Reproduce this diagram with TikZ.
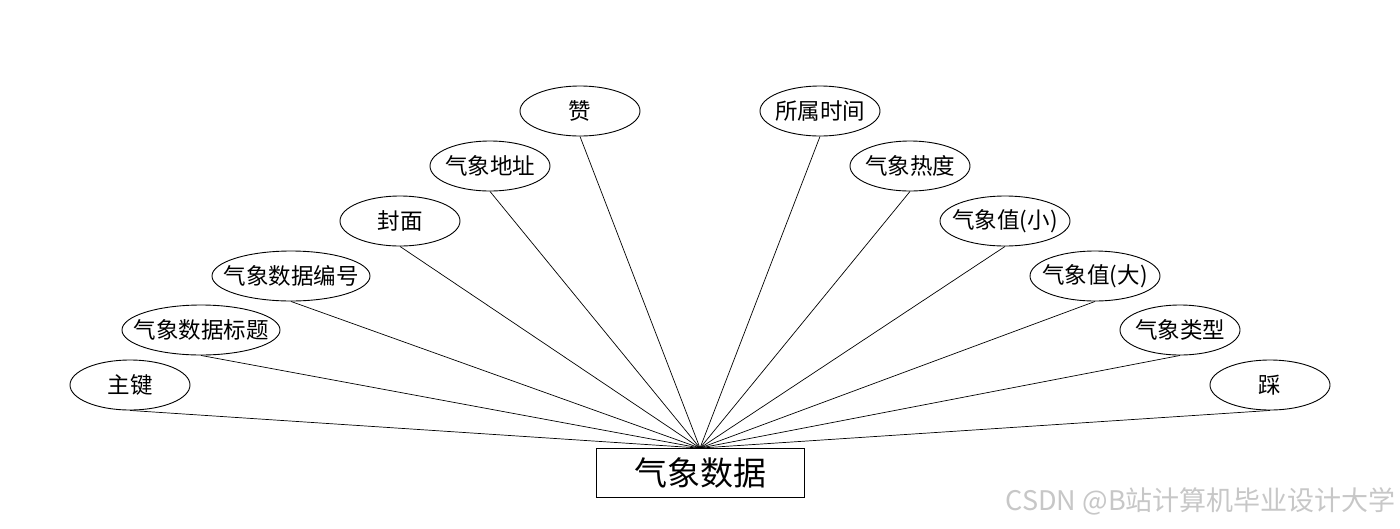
\documentclass[tikz,border=0pt]{standalone}
\usepackage{fontspec}
\setmainfont{Noto Sans CJK SC}
\usetikzlibrary{shapes.geometric}
\newcommand{\lbl}[1]{\makebox[0pt][c]{#1}}
\tikzset{
  attr/.style={ellipse, draw=black, line width=0.9pt, minimum width=120pt, minimum height=50pt, inner sep=0pt, font=\fontsize{22.5}{25}\selectfont},
  entity/.style={rectangle, draw=black, line width=0.9pt, minimum width=208pt, minimum height=49pt, inner sep=0pt, font=\fontsize{33}{38}\selectfont},
  link/.style={draw=black, line width=0.7pt}
}
\begin{document}
\begin{tikzpicture}[x=1pt,y=-1pt]
\useasboundingbox[fill=white] (0,0) rectangle (1400,528);
\node[entity] (e) at (700,473) {\lbl{气象数据}};
\node[attr] (a1) at (130,385) {\lbl{主键}};
\node[attr, minimum width=158pt] (a2) at (201,330) {\lbl{气象数据标题}};
\node[attr, minimum width=158pt] (a3) at (291,276) {\lbl{气象数据编号}};
\node[attr] (a4) at (400,221) {\lbl{封面}};
\node[attr] (a5) at (490,166) {\lbl{气象地址}};
\node[attr] (a6) at (580,111) {\lbl{赞}};
\node[attr] (b1) at (820,111) {\lbl{所属时间}};
\node[attr] (b2) at (910,166) {\lbl{气象热度}};
\node[attr, minimum width=130pt] (b3) at (1005,221) {\lbl{气象值(小)}};
\node[attr, minimum width=130pt] (b4) at (1095,276) {\lbl{气象值(大)}};
\node[attr] (b5) at (1180,330) {\lbl{气象类型}};
\node[attr] (b6) at (1270,385) {\lbl{踩}};
\foreach \n in {a1,a2,a3,a4,a5,a6,b1,b2,b3,b4,b5,b6}
  \draw[link] (\n.south) -- (e.north);
\node[anchor=east, text=black!22, inner sep=0pt, font=\fontsize{27}{30}\selectfont] (wm) at (1396,501) {CSDN @B站计算机毕业设计大学};
\end{tikzpicture}
\end{document}
